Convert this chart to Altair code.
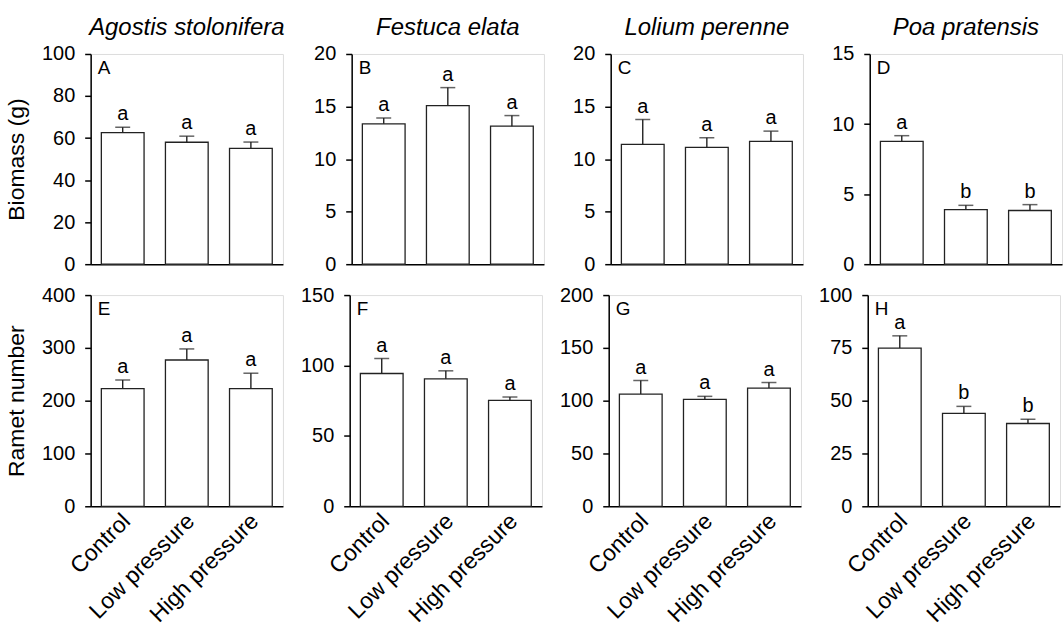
import altair as alt
import pandas as pd

treatments = ["Control", "Low pressure", "High pressure"]
species = ["Agostis stolonifera", "Festuca elata", "Lolium perenne", "Poa pratensis"]
row_titles = ["Biomass (g)", "Ramet number"]
panel_letters = [["A", "B", "C", "D"], ["E", "F", "G", "H"]]

biomass_mean = [[62.6, 58.0, 55.1], [13.35, 15.09, 13.13], [11.40, 11.12, 11.69], [8.76, 3.90, 3.83]]
biomass_se = [[2.6, 2.9, 3.0], [0.55, 1.71, 1.01], [2.36, 0.91, 0.97], [0.41, 0.30, 0.42]]
biomass_sig = [["a", "a", "a"], ["a", "a", "a"], ["a", "a", "a"], ["a", "b", "b"]]
biomass_ticks = [[0, 20, 40, 60, 80, 100], [0, 5, 10, 15, 20], [0, 5, 10, 15, 20], [0, 5, 10, 15]]

ramet_mean = [[223, 277, 223], [94.3, 90.5, 75.2], [106.3, 101.3, 111.9], [74.9, 44.0, 39.2]]
ramet_se = [[16, 21, 29], [10.6, 5.7, 2.4], [12.8, 2.8, 5.3], [5.8, 3.3, 2.0]]
ramet_sig = [["a", "a", "a"], ["a", "a", "a"], ["a", "a", "a"], ["a", "b", "b"]]
ramet_ticks = [[0, 100, 200, 300, 400], [0, 50, 100, 150], [0, 50, 100, 150, 200], [0, 25, 50, 75, 100]]

FONT = "Liberation Sans"
W = 193


def panel(means, ses, sigs, ticks, letter, ytitle, species_title, bottom, h):
    df = pd.DataFrame({
        "treatment": treatments,
        "mean": means,
        "top": [m + s for m, s in zip(means, ses)],
        "sig": sigs,
    })
    xscale = alt.Scale(domain=treatments, paddingInner=1 / 3, paddingOuter=1 / 6)
    xaxis = alt.Axis(
        title="", labels=bottom, ticks=False, labelAngle=-45, labelFontSize=23,
        labelAlign="right", labelBaseline="middle", labelPadding=11, labelOffset=4,
        labelColor="black", domainColor="black", domainWidth=1.5,
        labelFont=FONT, labelLimit=300,
    )
    yscale = alt.Scale(domain=[0, ticks[-1]], nice=False)
    yaxis = alt.Axis(
        values=ticks, title=ytitle, grid=False, tickSize=6, tickWidth=1.5,
        tickColor="black", domainColor="black", domainWidth=1.5, labelFontSize=20,
        labelColor="black", labelPadding=10, minExtent=50, maxExtent=50,
        titleFontSize=23, titleFontWeight="normal", titlePadding=12, titleColor="black",
        labelFont=FONT, titleFont=FONT,
    )
    base = alt.Chart(df).encode(
        x=alt.X("treatment:N", sort=treatments, scale=xscale, axis=xaxis)
    )
    bars = base.mark_bar(fill="white", stroke="#222222", strokeWidth=1.3).encode(
        y=alt.Y("mean:Q", scale=yscale, axis=yaxis)
    )
    err = base.mark_rule(color="#222222", strokeWidth=1.4).encode(y="mean:Q", y2="top:Q")
    cap = base.mark_tick(color="#222222", size=15, thickness=1.5).encode(y="top:Q")
    sig = base.mark_text(baseline="bottom", dy=-3, fontSize=20, font=FONT, color="black").encode(
        y="top:Q", text="sig:N"
    )
    lab = alt.Chart(pd.DataFrame({"t": [letter]})).mark_text(
        align="left", baseline="top", fontSize=19, font=FONT, color="black"
    ).encode(x=alt.value(7), y=alt.value(5), text="t:N")
    layer = alt.layer(bars, err, cap, sig, lab)
    props = dict(width=W, height=h)
    if species_title:
        props["title"] = alt.TitleParams(
            species_title, fontSize=24, fontStyle="italic", fontWeight="normal",
            font=FONT, color="black", offset=4, anchor="middle",
        )
    return layer.properties(**props)


row1 = alt.hconcat(*[
    panel(biomass_mean[i], biomass_se[i], biomass_sig[i], biomass_ticks[i],
          panel_letters[0][i], row_titles[0] if i == 0 else "", species[i], False, 211)
    for i in range(4)
], spacing=15)
row2 = alt.hconcat(*[
    panel(ramet_mean[i], ramet_se[i], ramet_sig[i], ramet_ticks[i],
          panel_letters[1][i], row_titles[1] if i == 0 else "", "", True, 212)
    for i in range(4)
], spacing=15)

chart = alt.vconcat(row1, row2, spacing=9).properties(
    padding={"left": 5, "top": 14, "right": 0, "bottom": 0}
).configure_view(stroke=None).configure(background="white")

chart.save("out.html", embed_options={"renderer": "svg", "actions": False})
